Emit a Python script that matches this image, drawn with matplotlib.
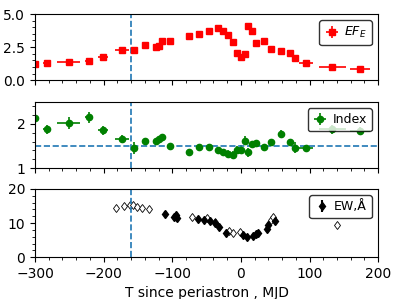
import numpy as np
import matplotlib
matplotlib.use('Agg')
import matplotlib.pyplot as plt

# EF_E flux (top panel)
t_ef = [-300, -282, -251, -221, -201, -173, -156, -139, -124, -120, -114.5, -103, -75, -61,
        -46, -33, -26, -19, -12, -5, 0.3, 6.6, 11, 16, 22, 34, 44, 58, 71, 79, 95, 133.5, 174]
ef = [1.21, 1.26, 1.36, 1.46, 1.72, 2.27, 2.27, 2.65, 2.50, 2.55, 2.98, 2.95, 3.36, 3.48,
      3.68, 3.94, 3.71, 3.41, 2.88, 2.05, 1.72, 2.00, 4.09, 3.71, 2.83, 2.93, 2.37, 2.20, 2.02,
      1.64, 1.31, 0.96, 0.83]
ef_xerr = [6, 6, 17, 6, 7, 10, 3, 3, 3, 3, 3, 3, 3, 3,
           3, 3, 3, 3, 3, 3, 3, 3, 3, 3, 3, 3, 3, 3, 3, 3, 10, 19, 14.5]
ef_yerr = [0.1, 0.1, 0.08, 0.1, 0.1, 0.1, 0.2, 0.1, 0.1, 0.1, 0.12, 0.1, 0.1, 0.1,
           0.1, 0.1, 0.1, 0.1, 0.12, 0.1, 0.1, 0.1, 0.25, 0.12, 0.1, 0.1, 0.1, 0.1, 0.1,
           0.1, 0.08, 0.08, 0.08]

# photon index (middle panel)
t_ix = t_ef
ix = [2.14, 1.88, 2.02, 2.15, 1.86, 1.66, 1.46, 1.61, 1.61, 1.66, 1.70, 1.51, 1.36, 1.47,
      1.47, 1.41, 1.36, 1.33, 1.29, 1.41, 1.42, 1.62, 1.36, 1.55, 1.56, 1.48, 1.59, 1.78, 1.58,
      1.46, 1.45, 1.88, 1.84]
ix_xerr = ef_xerr
ix_yerr = [0.1, 0.1, 0.13, 0.12, 0.1, 0.08, 0.13, 0.07, 0.07, 0.07, 0.07, 0.06, 0.07, 0.08,
           0.07, 0.06, 0.06, 0.07, 0.09, 0.08, 0.1, 0.1, 0.1, 0.06, 0.07, 0.07, 0.07, 0.08, 0.08,
           0.12, 0.08, 0.1, 0.1]

# H-alpha equivalent width (bottom panel)
t_ew = [-110.5, -97, -95, -93.5, -62, -53.6, -45, -37.6, -31.3, -21.6, 3.7, 8.6, 17.3, 22.2,
        25.5, 37.7, 40, 50]
ew = [12.8, 11.9, 12.3, 11.6, 11.1, 10.9, 10.5, 9.9, 8.9, 7.0, 6.5, 6.0, 6.1, 6.8,
      7.1, 8.2, 9.4, 10.5]
ew_err = [0.7] * len(ew)
t_ew_open = [-182, -170, -161.5, -156.7, -151.8, -143.6, -134, -70.7, -48.8, -37.6, -16.8,
             -11.8, -1.2, 44, 47.5, 140.7]
ew_open = [14.5, 15.0, 15.3, 15.2, 14.6, 14.3, 14.2, 11.9, 11.4, 10.3, 7.6, 7.0, 7.3,
           10.9, 11.9, 9.4]

t_line = -160
ix_line = 1.5

fig = plt.figure(figsize=(3.99, 2.99), dpi=100)
ax1 = fig.add_axes([0.0877, 0.732, 0.86, 0.221])
ax2 = fig.add_axes([0.0877, 0.438, 0.86, 0.221])
ax3 = fig.add_axes([0.0877, 0.140, 0.86, 0.228])

ax1.errorbar(t_ef, ef, xerr=ef_xerr, yerr=ef_yerr, fmt='s', color='red', ms=4.5,
             elinewidth=1.2, label='$EF_E$')
ax1.set_ylim(0, 5)
ax1.set_yticks([0, 2.5, 5.0])
ax1.set_yticklabels(['0.0', '2.5', '5.0'])

ax2.errorbar(t_ix, ix, xerr=ix_xerr, yerr=ix_yerr, fmt='o', color='green', ms=4.5,
             elinewidth=1.2, label='Index')
ax2.axhline(ix_line, ls='--', color='tab:blue', lw=1.2)
ax2.set_ylim(1, 2.5)
ax2.set_yticks([1, 2])

ax3.errorbar(t_ew, ew, yerr=ew_err, fmt='d', color='black', ms=4.5, label='EW,Å')
ax3.plot(t_ew_open, ew_open, 'd', mfc='white', mec='black', ms=4.5, mew=0.6)
ax3.set_ylim(0, 20)
ax3.set_yticks([0, 10, 20])
ax3.set_xlabel('T since periastron , MJD')

for ax in (ax1, ax2, ax3):
    ax.set_xlim(-300, 200)
    ax.set_xticks([-300, -200, -100, 0, 100, 200])
    ax.axvline(t_line, ls='--', color='tab:blue', lw=1.2)
    ax.minorticks_on()
    ax.legend(loc='upper right', fontsize=9, edgecolor='black', handletextpad=0.4,
              borderpad=0.4, handlelength=1.2)
    ax.tick_params(labelsize=10)
ax1.tick_params(labelbottom=False)
ax2.tick_params(labelbottom=False)

fig.savefig('out.png', dpi=100)
